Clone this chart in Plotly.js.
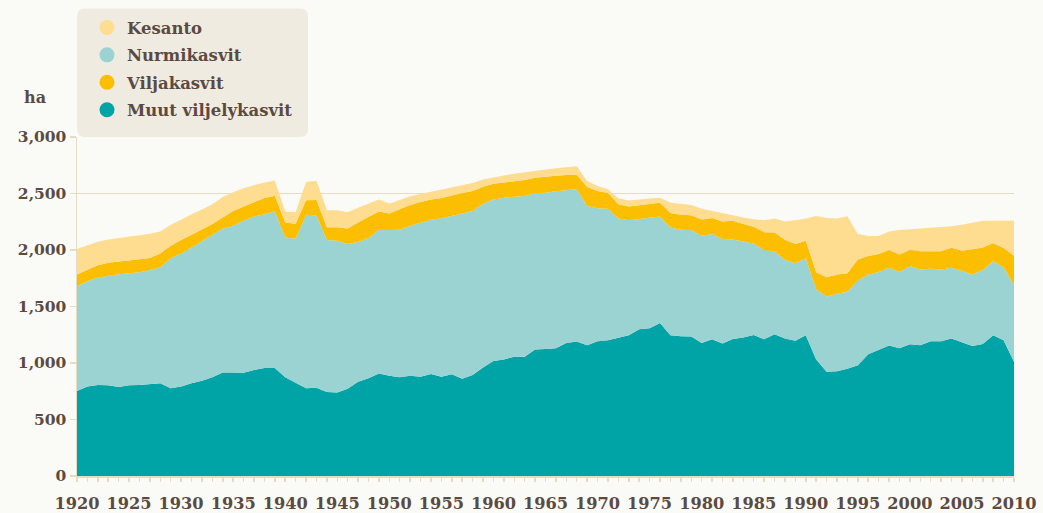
<!DOCTYPE html>
<html>
<head>
<meta charset="utf-8">
<script src="https://cdn.plot.ly/plotly-3.0.1.min.js"></script>
<style>
html,body{margin:0;padding:0;background:#fafaf6;}
#chart{width:1043px;height:513px;}
</style>
</head>
<body>
<div id="chart"></div>
<script>
const years = [];
for (let y = 1920; y <= 2010; y++) years.push(y);

const muut = [753,791,805,803,788,803,805,814,820,776,791,820,843,873,917,915,914,938,955,955,
873,826,776,782,744,738,773,835,864,908,887,873,887,879,902,879,900,861,893,961,
1017,1032,1055,1055,1120,1125,1131,1178,1190,1158,1193,1202,1225,1246,1298,1307,1354,1246,1237,1234,
1178,1210,1173,1213,1225,1248,1210,1254,1216,1196,1246,1030,923,926,949,979,1078,1120,1155,1131,
1166,1158,1193,1193,1216,1184,1151,1169,1246,1202,1010];

const nurmi = [927,933,951,968,997,991,998,1010,1027,1150,1179,1203,1239,1262,1273,1300,1346,1357,1362,1385,
1238,1274,1535,1523,1344,1344,1280,1235,1242,1268,1289,1306,1327,1364,1365,1403,1400,1461,1453,1449,
1429,1431,1417,1423,1382,1382,1388,1350,1347,1232,1177,1164,1053,1018,978,975,942,953,942,942,
948,931,924,881,851,810,790,734,696,686,680,622,666,687,681,751,705,686,687,675,
693,669,642,634,626,628,632,655,654,645,676];

const vilja = [103,100,109,117,112,115,118,106,123,112,118,115,100,94,100,130,125,130,143,140,
132,132,129,138,114,120,137,173,187,164,146,179,185,182,179,178,185,182,176,150,
140,136,138,141,137,144,138,135,129,167,152,138,127,121,123,126,123,129,132,132,
143,143,155,164,153,147,158,167,179,171,156,151,170,170,164,187,164,159,158,155,
144,161,153,161,178,182,223,199,162,171,264];

const kesanto = [226,220,208,206,209,208,205,214,194,185,179,179,176,176,180,167,161,148,138,136,
97,103,161,170,150,150,145,132,117,106,88,82,76,71,70,77,70,71,70,65,
59,61,64,70,65,62,67,73,76,53,44,33,53,52,50,47,44,91,99,91,
97,62,70,50,58,68,106,123,161,211,196,497,525,495,505,224,176,158,164,215,
179,200,205,217,191,229,234,235,196,240,308];

const seriesNames = ["Muut viljelykasvit","Nurmikasvit","Viljakasvit","Kesanto"];
const seriesColors = ["#00a3a6","#9ad3d2","#fbbe00","#fedc90"];
const seriesData = [muut, nurmi, vilja, kesanto];
const legendOrder = ["Kesanto","Nurmikasvit","Viljakasvit","Muut viljelykasvit"];

const txt = "#5b4a41";
const beige = "#e5dcc6";
const fontFam = "'DejaVu Serif', 'Liberation Serif', serif";

const traces = [];
seriesData.forEach((d, i) => {
  traces.push({
    x: years, y: d, name: seriesNames[i], type: "scatter", mode: "lines",
    stackgroup: "one", line: {width: 0, color: seriesColors[i]},
    fillcolor: seriesColors[i], showlegend: false, hoverinfo: "x+y+name"
  });
});
legendOrder.forEach((n, k) => {
  const i = seriesNames.indexOf(n);
  traces.push({
    x: [null], y: [null], name: n, type: "scatter", mode: "markers",
    marker: {size: 15, color: seriesColors[i]}, showlegend: true,
    legendgroup: "g" + k
  });
});

// legend background with rounded corners (paper coords)
const plotL = 77, plotR = 1014, plotT = 136, plotB = 476.5;
const px = v => (v - plotL) / (plotR - plotL);
const py = v => (plotB - v) / (plotB - plotT);
const bx0 = 77, bx1 = 308, by0 = 7, by1 = 136, r = 8;
const path = `M${px(bx0+r)},${py(by0)} L${px(bx1-r)},${py(by0)} Q${px(bx1)},${py(by0)} ${px(bx1)},${py(by0+r)} ` +
  `L${px(bx1)},${py(by1-r)} Q${px(bx1)},${py(by1)} ${px(bx1-r)},${py(by1)} L${px(bx0+r)},${py(by1)} ` +
  `Q${px(bx0)},${py(by1)} ${px(bx0)},${py(by1-r)} L${px(bx0)},${py(by0+r)} Q${px(bx0)},${py(by0)} ${px(bx0+r)},${py(by0)} Z`;

const layout = {
  width: 1043, height: 513,
  margin: {l: 77, r: 29, t: 136, b: 36.5},
  paper_bgcolor: "#fafaf6", plot_bgcolor: "#fafaf6",
  font: {family: fontFam, color: txt, size: 15},
  showlegend: true,
  legend: {
    x: px(87), y: py(10), xanchor: "left", yanchor: "top",
    bgcolor: "rgba(0,0,0,0)", borderwidth: 0, traceorder: "grouped",
    font: {family: fontFam, size: 16.5, color: txt, weight: "bold"},
    tracegroupgap: 3, itemwidth: 30
  },
  xaxis: {
    range: [1920, 2010], dtick: 5, tick0: 1920,
    ticks: "outside", ticklen: 4, tickcolor: beige, tickwidth: 1.5,
    minor: {dtick: 1, ticks: "outside", ticklen: 4, tickcolor: beige, tickwidth: 1.5},
    showgrid: false, zeroline: false, showline: true, linecolor: beige, linewidth: 1.5,
    tickfont: {family: fontFam, size: 16.2, color: txt, weight: "bold"},
    ticklabelstandoff: 8,
    fixedrange: true
  },
  yaxis: {
    range: [0, 3000], dtick: 500, tickformat: ",",
    ticks: "outside", ticklen: 6, tickcolor: beige, tickwidth: 1.5,
    showgrid: true, gridcolor: beige, gridwidth: 1.5,
    zeroline: false, showline: true, linecolor: beige, linewidth: 1.5,
    tickfont: {family: fontFam, size: 15.5, color: txt, weight: "bold"},
    fixedrange: true
  },
  shapes: [{type: "path", xref: "paper", yref: "paper", path: path,
    fillcolor: "#efebe0", line: {width: 0}, layer: "below"}],
  annotations: [{text: "ha", xref: "paper", yref: "paper", x: px(35), y: py(96),
    xanchor: "center", yanchor: "middle", showarrow: false,
    font: {family: fontFam, size: 16, color: txt, weight: "bold"}}]
};

Plotly.newPlot("chart", traces, layout, {displayModeBar: false, staticPlot: true});
</script>
</body>
</html>
